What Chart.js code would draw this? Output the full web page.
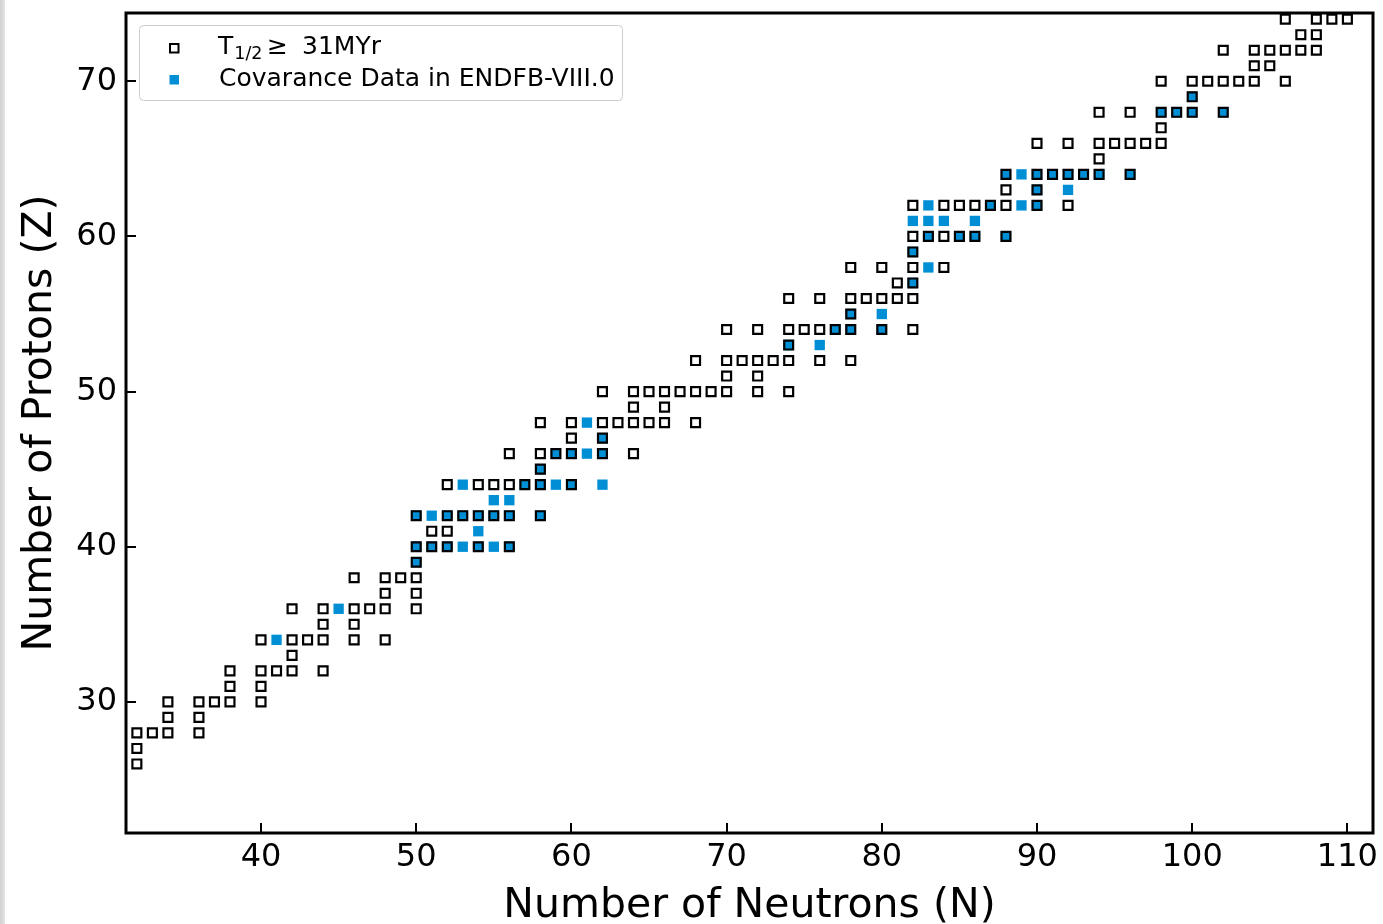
<!DOCTYPE html>
<html><head><meta charset="utf-8">
<script src="https://cdn.jsdelivr.net/npm/chart.js@4.4.1/dist/chart.umd.min.js"></script>
<style>
html,body{margin:0;padding:0;background:#fff;}
#wrap{position:relative;width:1383px;height:924px;overflow:hidden;}
#strip{position:absolute;left:0;top:0;width:5px;height:924px;background:linear-gradient(to right,#d2d2d2,#e4e4e4);}
canvas{display:block;}
</style></head><body>
<div id="wrap"><canvas id="c" width="1383" height="924"></canvas><div id="strip"></div></div>
<script>
// Proton numbers (Z), one entry per row of the chart
const protonNumbers = [26,27,28,29,30,31,32,33,34,35,36,37,38,39,40,41,42,43,44,45,46,47,48,49,50,
  51,52,53,54,55,56,57,58,59,60,61,62,63,64,65,66,67,68,69,70,71,72,73,74];
// Neutron numbers (N) of nuclides with T1/2 >= 31 MYr, per Z row
const longLivedN = [
  [32],[32],[32,33,34,36],[34,36],[34,36,37,38,40],[38,40],[38,40,41,42,44],[42],
  [40,42,43,44,46,48],[44,46],[42,44,46,47,48,50],[48,50],[46,48,49,50],[50],
  [50,51,52,54,56],[51,52],[50,52,53,54,55,56,58],[],[52,54,55,56,57,58,60],[58],
  [56,58,59,60,62,64],[60,62],[58,60,62,63,64,65,66,68],[64,66],
  [62,64,65,66,67,68,69,70,72,74],[70,72],[68,70,71,72,73,74,76,78],[74],
  [70,72,74,75,76,77,78,80,82],[78],[74,76,78,79,80,81,82],[81,82],[78,80,82,84],[82],
  [82,83,84,85,86,88],[],[82,84,85,86,87,88,90,92],[88,90],[88,90,91,92,93,94,96],[94],
  [90,92,94,95,96,97,98],[98],[94,96,98,99,100,102],[100],[98,100,101,102,103,104,106],
  [104,105],[102,104,105,106,107,108],[107,108],[106,108,109,110]
];
// Neutron numbers (N) of nuclides with covariance data in ENDF/B-VIII.0, per Z row
const covarianceN = [
  [],[],[],[],[],[],[],[],
  [41],[],[45],[],[],[50],
  [50,51,52,53,54,55,56],[54],[50,51,52,53,54,55,56,58],[55,56],[53,57,58,59,60,62],[58],
  [59,60,61,62],[62],[61],[],
  [],[],[],[74,76],
  [77,78,80],[78,80],[],[82],[83],[82],
  [83,85,86,88],[82,83,84,86],[83,87,89,90],[90,92],[88,89,90,91,92,93,94,96],[],
  [],[],[98,99,100,102],[100],[],
  [],[],[],[]
];
const xTicks = [40,50,60,70,80,90,100,110];
const yTicks = [30,40,50,60,70];
const seriesLabels = ['T1/2 \u2265  31MYr', 'Covarance Data in ENDFB-VIII.0'];

function toPoints(rows){
  const pts = [];
  rows.forEach((ns, i) => ns.forEach(n => pts.push({x: n, y: protonNumbers[i]})));
  return pts;
}

const FONT = "'DejaVu Sans', sans-serif";
const BLUE = '#008fd5';

function noPad(s){ s.paddingTop = 0; s.paddingBottom = 0; s.paddingLeft = 0; s.paddingRight = 0; }

const framePlugin = {
  id: 'frameAndLegend',
  afterDraw(chart){
    const {ctx, chartArea: a, scales: {x, y}} = chart;
    ctx.save();
    // inward ticks
    ctx.strokeStyle = '#000';
    ctx.lineWidth = 2;
    ctx.beginPath();
    xTicks.forEach(v => { const p = Math.round(x.getPixelForValue(v)); ctx.moveTo(p, a.bottom); ctx.lineTo(p, a.bottom - 10); });
    yTicks.forEach(v => { const p = Math.round(y.getPixelForValue(v)); ctx.moveTo(a.left, p); ctx.lineTo(a.left + 10, p); });
    ctx.stroke();
    // frame
    ctx.lineWidth = 3;
    ctx.strokeRect(a.left, a.top, a.right - a.left, a.bottom - a.top);

    // legend
    const bx = 139.5, by = 25.5, bw = 483, bh = 75, r = 4;
    ctx.beginPath();
    ctx.moveTo(bx + r, by);
    ctx.lineTo(bx + bw - r, by); ctx.arcTo(bx + bw, by, bx + bw, by + r, r);
    ctx.lineTo(bx + bw, by + bh - r); ctx.arcTo(bx + bw, by + bh, bx + bw - r, by + bh, r);
    ctx.lineTo(bx + r, by + bh); ctx.arcTo(bx, by + bh, bx, by + bh - r, r);
    ctx.lineTo(bx, by + r); ctx.arcTo(bx, by, bx + r, by, r);
    ctx.closePath();
    ctx.fillStyle = 'rgba(255,255,255,0.85)';
    ctx.fill();
    ctx.lineWidth = 1;
    ctx.strokeStyle = '#cccccc';
    ctx.stroke();

    // markers
    ctx.lineWidth = 2;
    ctx.strokeStyle = '#000';
    ctx.strokeRect(170, 44, 8.5, 8.5);
    ctx.fillStyle = BLUE;
    ctx.fillRect(169.5, 75, 9.5, 9.5);

    // texts
    ctx.fillStyle = '#000';
    ctx.textBaseline = 'alphabetic';
    ctx.textAlign = 'left';
    ctx.font = '25px ' + FONT;
    ctx.fillText('T', 218, 54);
    const tw = ctx.measureText('T').width;
    ctx.font = '17.5px ' + FONT;
    ctx.fillText('1/2', 218 + tw + 1, 59);
    ctx.font = '25px ' + FONT;
    ctx.fillText('\u2265', 267, 54);
    ctx.fillText('31MYr', 302, 54);
    ctx.fillText(seriesLabels[1], 219, 86);
    ctx.restore();
  }
};

new Chart(document.getElementById('c'), {
  type: 'scatter',
  data: {
    datasets: [
      {
        label: seriesLabels[0],
        data: toPoints(longLivedN),
        pointStyle: 'rect',
        pointRadius: 6.3,
        pointHoverRadius: 6.3,
        borderColor: '#000',
        backgroundColor: 'rgba(0,0,0,0)',
        borderWidth: 2.2
      },
      {
        label: seriesLabels[1],
        data: toPoints(covarianceN),
        pointStyle: 'rect',
        pointRadius: 7.3,
        pointHoverRadius: 7.3,
        borderColor: BLUE,
        backgroundColor: BLUE,
        borderWidth: 0
      }
    ]
  },
  options: {
    responsive: false,
    animation: false,
    devicePixelRatio: 1,
    layout: { padding: { left: 0, right: 10, top: 13, bottom: 0 } },
    plugins: { legend: { display: false }, tooltip: { enabled: false } },
    events: [],
    scales: {
      x: {
        type: 'linear',
        min: 31.3, max: 111.65,
        grid: { display: false, drawTicks: false },
        border: { display: false },
        afterBuildTicks: s => { s.ticks = xTicks.map(v => ({ value: v })); },
        afterFit: s => { s.height = 91; noPad(s); },
        ticks: { font: { family: FONT, size: 32 }, color: '#000', padding: 5, maxRotation: 0, autoSkip: false },
        title: { display: true, text: 'Number of Neutrons (N)', color: '#000',
          font: { family: FONT, size: 41, lineHeight: 0.85 }, padding: 0 }
      },
      y: {
        type: 'linear',
        min: 21.55, max: 74.4,
        grid: { display: false, drawTicks: false },
        border: { display: false },
        afterBuildTicks: s => { s.ticks = yTicks.map(v => ({ value: v })); },
        afterFit: s => { s.width = 126; noPad(s); },
        ticks: { font: { family: FONT, size: 32 }, color: '#000', padding: 9, autoSkip: false },
        title: { display: true, text: 'Number of Protons (Z)', color: '#000',
          font: { family: FONT, size: 41, lineHeight: 1.2 }, padding: { top: 16, bottom: 0 } }
      }
    }
  },
  plugins: [framePlugin]
});
</script>
</body></html>
